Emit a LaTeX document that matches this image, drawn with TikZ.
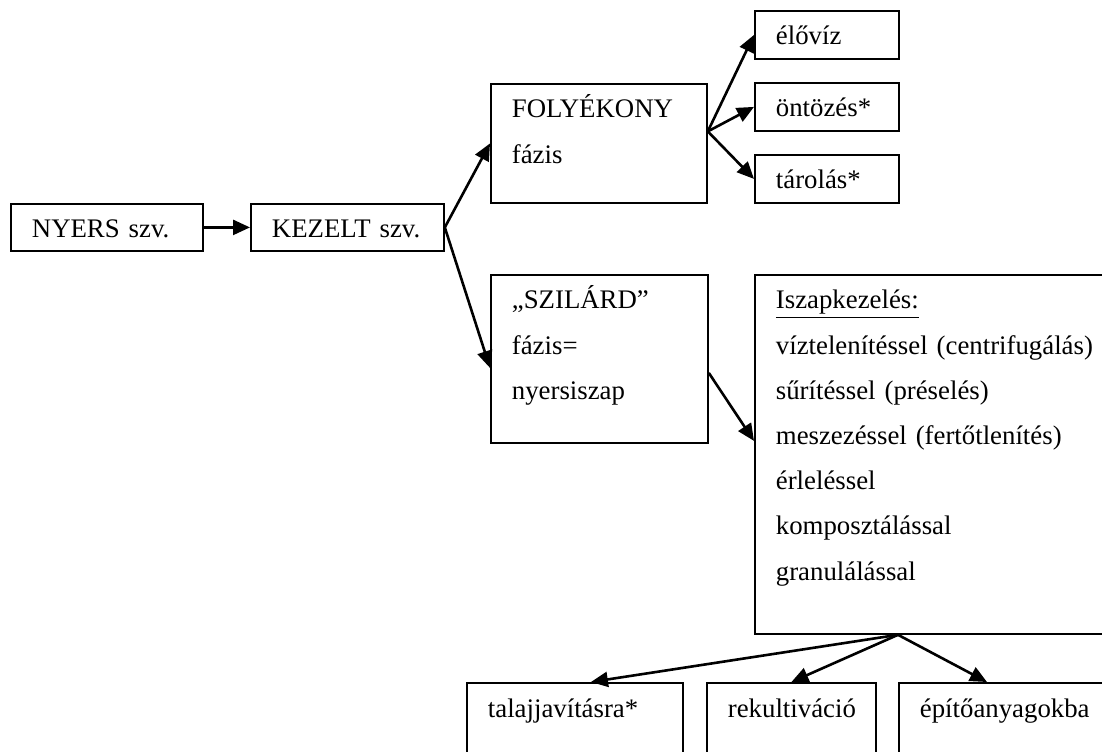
\documentclass[tikz,border=0pt]{standalone}
\usepackage{fontspec}
\setmainfont{Liberation Serif}
\usepackage{tikz}
\usetikzlibrary{arrows.meta,positioning}

\begin{document}
\begin{tikzpicture}[x=0.5pt,y=-0.5pt,>={Triangle[length=8.5pt,width=7.5pt]},
  box/.style={draw,line width=0.9pt,anchor=north west,align=left,
    inner xsep=10.5pt,inner ysep=0pt,text height=17pt,
    font=\fontsize{13.4}{22.6}\selectfont},
  flow/.style={->,line width=1.3pt}]
\useasboundingbox (0,0) rectangle (1102,751);
\node[box,text width=75pt,text depth=6.5pt] (nyers) at (10,203) {NYERS szv.};
\node[box,text width=75.5pt,text depth=6.5pt] (kezelt) at (250,203) {KEZELT szv.};
\node[box,text width=87pt,text depth=42.5pt] (foly) at (490,83) {FOLYÉKONY\\fázis};
\node[box,text width=51pt,text depth=7pt] (elo) at (754,10) {élővíz};
\node[box,text width=51pt,text depth=7pt] (ontoz) at (754,82) {öntözés*};
\node[box,text width=51pt,text depth=7pt] (tarol) at (754,154) {tárolás*};
\node[box,text width=87.5pt,text depth=67pt] (szil) at (490,274) {„SZILÁRD”\\fázis=\\nyersiszap};
\node[box,text width=169pt,text depth=162.5pt] (iszap) at (754,274)
  {\underline{Iszapkezelés:}\\víztelenítéssel (centrifugálás)\\sűrítéssel (préselés)\\
   meszezéssel (fertőtlenítés)\\érleléssel\\komposztálással\\granulálással};
\node[box,text width=87pt,text height=17.5pt,text depth=32.5pt] (talaj) at (466,682) {talajjavításra*};
\node[box,text width=63.5pt,text height=17.5pt,text depth=32.5pt] (rekult) at (706,682) {rekultiváció};
\node[box,text width=94pt,text height=17.5pt,text depth=32.5pt] (epito) at (898,682) {építőanyagokba};

\draw[flow] (nyers) -- (kezelt);
\draw[flow] (kezelt.east) -- (foly.west);
\draw[flow] (kezelt.east) -- ([yshift=-4.5pt]szil.west);
\foreach \t in {elo,ontoz,tarol}
  \draw[flow] ([yshift=6pt]foly.east) -- (\t.west);
\draw[flow] ([yshift=-7pt]szil.east) -- ([yshift=6.75pt]iszap.west);
\coordinate (fan) at ([xshift=72pt]iszap.south west);
\draw[flow] (fan) -- ([xshift=8pt]talaj.north);
\draw[flow] (fan) -- (rekult.north);
\draw[flow] (fan) -- ([xshift=44.5pt]epito.north west);
\end{tikzpicture}
\end{document}
